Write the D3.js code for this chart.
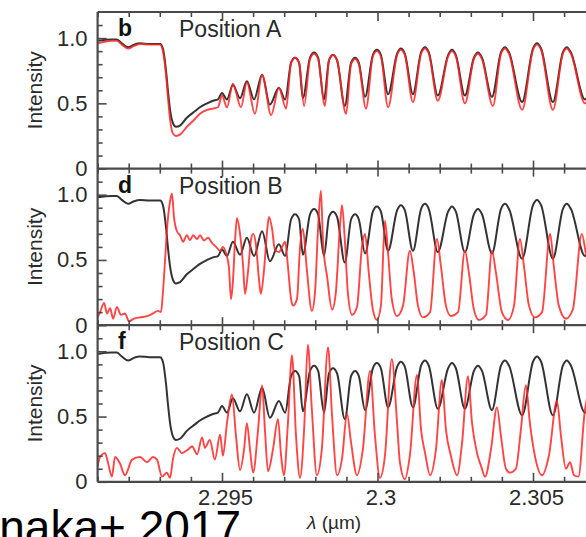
<!DOCTYPE html>
<html>
<head>
<meta charset="utf-8">
<script src="https://cdn.jsdelivr.net/npm/d3@7"></script>
<style>
  html, body { margin: 0; padding: 0; background: #fff; }
  svg { display: block; font-family: "Liberation Sans", Arial, Helvetica, sans-serif; }
</style>
</head>
<body>
<svg id="chart" width="586" height="537"></svg>
<script>
// reference spectrum (black), same in every panel
var blackRef = [
  [2.29100,0.98],[2.29146,0.99],[2.29162,0.99],[2.29178,0.96],[2.29198,0.93],[2.29217,0.95],
  [2.29236,0.96],[2.29268,0.955],[2.29301,0.955],[2.29310,0.92],[2.29320,0.75],[2.29326,0.60],
  [2.29333,0.45],[2.29342,0.35],[2.29352,0.32],[2.29365,0.33],[2.29387,0.39],[2.29413,0.44],
  [2.29429,0.47],[2.29452,0.50],[2.29471,0.52],[2.29487,0.53],[2.29500,0.58],[2.29516,0.53],
  [2.29535,0.64],[2.29558,0.54],[2.29580,0.67],[2.29603,0.53],[2.29629,0.72],[2.29654,0.49],
  [2.29683,0.62],[2.29703,0.53],[2.29722,0.81],[2.29735,0.85],[2.29748,0.81],[2.29760,0.54],
  [2.29783,0.85],[2.29796,0.89],[2.29809,0.85],[2.29828,0.53],[2.29844,0.83],[2.29857,0.87],
  [2.29870,0.83],[2.29895,0.48],[2.29915,0.81],[2.29928,0.85],[2.29940,0.81],[2.29960,0.55],
  [2.29985,0.87],[2.29998,0.91],[2.30011,0.87],[2.30034,0.57],[2.30063,0.88],[2.30075,0.92],
  [2.30088,0.88],[2.30114,0.57],[2.30140,0.89],[2.30153,0.93],[2.30165,0.89],[2.30194,0.56],
  [2.30227,0.87],[2.30239,0.91],[2.30252,0.87],[2.30281,0.56],[2.30310,0.85],[2.30323,0.89],
  [2.30336,0.85],[2.30368,0.55],[2.30397,0.89],[2.30410,0.93],[2.30423,0.89],[2.30465,0.51],
  [2.30500,0.92],[2.30513,0.96],[2.30526,0.92],[2.30564,0.51],[2.30596,0.89],[2.30609,0.93],
  [2.30622,0.89],[2.30667,0.53],[2.30699,0.80]
];

var redA = [
  [2.29100,0.96],[2.29146,0.98],[2.29162,0.98],[2.29178,0.95],[2.29198,0.92],[2.29217,0.94],
  [2.29236,0.955],[2.29268,0.95],[2.29301,0.95],[2.29310,0.90],[2.29320,0.72],[2.29326,0.55],
  [2.29333,0.38],[2.29342,0.27],[2.29352,0.25],[2.29365,0.26],[2.29387,0.32],[2.29413,0.38],
  [2.29429,0.42],[2.29452,0.45],[2.29471,0.46],[2.29487,0.47],[2.29500,0.56],[2.29516,0.47],
  [2.29535,0.65],[2.29561,0.47],[2.29580,0.66],[2.29606,0.42],[2.29629,0.72],[2.29658,0.41],
  [2.29683,0.62],[2.29706,0.46],[2.29722,0.81],[2.29735,0.85],[2.29748,0.81],[2.29764,0.48],
  [2.29783,0.84],[2.29796,0.88],[2.29809,0.84],[2.29831,0.48],[2.29844,0.83],[2.29857,0.87],
  [2.29870,0.83],[2.29899,0.42],[2.29915,0.80],[2.29928,0.84],[2.29940,0.80],[2.29963,0.46],
  [2.29985,0.86],[2.29998,0.90],[2.30011,0.86],[2.30034,0.47],[2.30063,0.87],[2.30075,0.91],
  [2.30088,0.87],[2.30114,0.51],[2.30140,0.88],[2.30153,0.92],[2.30165,0.88],[2.30194,0.52],
  [2.30227,0.86],[2.30239,0.90],[2.30252,0.86],[2.30281,0.50],[2.30310,0.84],[2.30323,0.88],
  [2.30336,0.84],[2.30371,0.48],[2.30397,0.88],[2.30410,0.92],[2.30423,0.88],[2.30465,0.45],
  [2.30500,0.91],[2.30513,0.95],[2.30526,0.91],[2.30564,0.45],[2.30596,0.88],[2.30609,0.92],
  [2.30622,0.88],[2.30667,0.50],[2.30699,0.78]
];

var redB = [
  [2.29100,0.06],[2.29108,0.10],[2.29121,0.17],[2.29130,0.09],[2.29140,0.13],[2.29150,0.05],
  [2.29162,0.14],[2.29175,0.08],[2.29188,0.09],[2.29201,0.03],[2.29217,0.05],[2.29236,0.06],
  [2.29259,0.07],[2.29278,0.09],[2.29294,0.11],[2.29304,0.10],[2.29310,0.25],[2.29317,0.50],
  [2.29323,0.73],[2.29333,0.95],[2.29339,1.01],[2.29346,0.82],[2.29355,0.72],[2.29365,0.69],
  [2.29375,0.64],[2.29387,0.69],[2.29397,0.65],[2.29407,0.69],[2.29420,0.66],[2.29429,0.69],
  [2.29442,0.65],[2.29455,0.67],[2.29468,0.63],[2.29481,0.60],[2.29494,0.57],[2.29503,0.60],
  [2.29513,0.55],[2.29522,0.45],[2.29529,0.20],[2.29535,0.33],[2.29542,0.65],[2.29548,0.82],
  [2.29558,0.70],[2.29568,0.45],[2.29574,0.24],[2.29584,0.42],[2.29593,0.65],[2.29600,0.70],
  [2.29609,0.62],[2.29619,0.35],[2.29625,0.24],[2.29635,0.42],[2.29645,0.72],[2.29651,0.83],
  [2.29661,0.74],[2.29670,0.58],[2.29683,0.56],[2.29693,0.60],[2.29703,0.64],[2.29712,0.45],
  [2.29722,0.20],[2.29728,0.15],[2.29741,0.20],[2.29751,0.60],[2.29760,0.74],[2.29773,0.42],
  [2.29789,0.11],[2.29799,0.25],[2.29809,0.75],[2.29818,1.03],[2.29825,0.63],[2.29838,0.37],
  [2.29854,0.12],[2.29866,0.25],[2.29879,0.75],[2.29886,0.92],[2.29895,0.65],[2.29905,0.24],
  [2.29918,0.08],[2.29934,0.14],[2.29950,0.60],[2.29960,0.70],[2.29972,0.40],[2.29985,0.12],
  [2.29998,0.04],[2.30011,0.15],[2.30024,0.80],[2.30034,0.55],[2.30046,0.20],[2.30063,0.07],
  [2.30082,0.15],[2.30104,0.57],[2.30117,0.40],[2.30130,0.15],[2.30146,0.06],[2.30169,0.10],
  [2.30191,0.66],[2.30204,0.45],[2.30220,0.15],[2.30236,0.07],[2.30259,0.10],[2.30281,0.57],
  [2.30294,0.40],[2.30310,0.12],[2.30326,0.04],[2.30349,0.08],[2.30368,0.57],[2.30381,0.40],
  [2.30400,0.10],[2.30420,0.04],[2.30439,0.15],[2.30458,0.66],[2.30471,0.45],[2.30487,0.15],
  [2.30506,0.06],[2.30529,0.10],[2.30555,0.70],[2.30567,0.45],[2.30583,0.15],[2.30606,0.05],
  [2.30628,0.12],[2.30657,0.70],[2.30670,0.55],[2.30699,0.20]
];

var redC = [
  [2.29100,0.12],[2.29108,0.19],[2.29124,0.22],[2.29133,0.15],[2.29146,0.04],[2.29156,0.19],
  [2.29172,0.14],[2.29188,0.05],[2.29211,0.17],[2.29236,0.19],[2.29259,0.15],[2.29278,0.19],
  [2.29291,0.17],[2.29307,0.04],[2.29323,0.07],[2.29333,0.03],[2.29342,0.17],[2.29355,0.26],
  [2.29371,0.22],[2.29387,0.24],[2.29404,0.27],[2.29420,0.21],[2.29436,0.34],[2.29445,0.26],
  [2.29461,0.32],[2.29477,0.17],[2.29494,0.36],[2.29503,0.20],[2.29516,0.45],[2.29532,0.67],
  [2.29545,0.35],[2.29558,0.09],[2.29571,0.25],[2.29580,0.45],[2.29590,0.25],[2.29600,0.07],
  [2.29616,0.40],[2.29629,0.74],[2.29638,0.40],[2.29648,0.08],[2.29664,0.25],[2.29680,0.48],
  [2.29690,0.20],[2.29699,0.05],[2.29712,0.45],[2.29725,0.97],[2.29738,0.35],[2.29751,0.03],
  [2.29764,0.40],[2.29776,1.05],[2.29789,0.55],[2.29805,0.05],[2.29821,0.25],[2.29841,1.03],
  [2.29854,0.50],[2.29870,0.05],[2.29886,0.18],[2.29902,0.52],[2.29915,0.30],[2.29934,0.05],
  [2.29953,0.25],[2.29976,0.85],[2.29992,0.35],[2.30008,0.03],[2.30024,0.20],[2.30046,0.94],
  [2.30063,0.45],[2.30072,0.15],[2.30088,0.02],[2.30104,0.20],[2.30127,0.82],[2.30140,0.40],
  [2.30153,0.22],[2.30169,0.05],[2.30188,0.25],[2.30207,0.78],[2.30220,0.40],[2.30236,0.20],
  [2.30256,0.05],[2.30272,0.30],[2.30291,0.81],[2.30304,0.45],[2.30320,0.22],[2.30333,0.12],
  [2.30346,0.04],[2.30365,0.25],[2.30384,0.57],[2.30397,0.35],[2.30413,0.10],[2.30426,0.07],
  [2.30445,0.10],[2.30461,0.40],[2.30477,0.74],[2.30490,0.45],[2.30506,0.20],[2.30529,0.05],
  [2.30551,0.20],[2.30577,0.62],[2.30590,0.35],[2.30606,0.10],[2.30619,0.15],[2.30632,0.05],
  [2.30646,0.04],[2.30667,0.55],[2.30699,0.80]
];

var panelLetters = ["b", "d", "f"];
var panelTitles = ["Position A", "Position B", "Position C"];
var redSeries = [redA, redB, redC];

var xMajor = [2.295, 2.3, 2.305];
var xMinor = [2.291, 2.292, 2.293, 2.294, 2.296, 2.297, 2.298, 2.299,
              2.301, 2.302, 2.303, 2.304, 2.306, 2.307];
var yMajor = [0, 0.5, 1.0];
var yMinor = [0.1, 0.2, 0.3, 0.4, 0.6, 0.7, 0.8, 0.9, 1.1];
var yLabels = ["0", "0.5", "1.0"];

var svg = d3.select("#chart");
var left = 97.6, right = 610.75, top0 = 12, ph = 156.6;
var frameCol = "#4a4a4a", textCol = "#2a2a2a";

var x = d3.scaleLinear().domain([2.291, 2.3075]).range([left, right]);

svg.append("clipPath").attr("id", "plotclip")
  .append("rect").attr("x", left).attr("y", top0).attr("width", right - left).attr("height", ph * 3);

function xTicks(yPos, gen, vals, size, offset) {
  svg.append("g").attr("transform", "translate(0," + (yPos + offset) + ")")
    .call(gen(x).tickValues(vals).tickSize(size).tickSizeOuter(0).tickFormat(""))
    .call(function (g) {
      g.select(".domain").remove();
      g.selectAll("line").attr("stroke", frameCol).attr("stroke-width", 1.6);
    });
}

panelTitles.forEach(function (title, i) {
  var pTop = top0 + i * ph, pBot = pTop + ph;
  var y = d3.scaleLinear().domain([0, 1.2]).range([pBot, pTop]);
  var line = d3.line().x(function (d) { return x(d[0]); }).y(function (d) { return y(d[1]); })
    .curve(d3.curveMonotoneX);

  var lines = svg.append("g").attr("clip-path", "url(#plotclip)");
  lines.append("path").datum(blackRef).attr("d", line)
    .attr("fill", "none").attr("stroke", "#333").attr("stroke-width", 2).attr("stroke-linejoin", "round");
  lines.append("path").datum(redSeries[i]).attr("d", line)
    .attr("fill", "none").attr("stroke", "#ff2424").attr("stroke-opacity", 0.85)
    .attr("stroke-width", 1.9).attr("stroke-linejoin", "round");

  // y ticks, inward
  [[yMinor, 5], [yMajor, 9]].forEach(function (t) {
    svg.append("g").attr("transform", "translate(" + left + ",0)")
      .call(d3.axisRight(y).tickValues(t[0]).tickSize(t[1]).tickSizeOuter(0).tickFormat(""))
      .call(function (g) {
        g.select(".domain").remove();
        g.selectAll("line").attr("stroke", frameCol).attr("stroke-width", 1.6);
      });
  });
  svg.append("g").attr("transform", "translate(" + left + ",0)")
    .call(d3.axisLeft(y).tickValues(yMajor).tickSize(0).tickPadding(10)
      .tickFormat(function (d, k) { return yLabels[k]; }))
    .call(function (g) {
      g.select(".domain").remove();
      g.selectAll("text").attr("fill", textCol).style("font-size", "22px");
    });

  svg.append("text").attr("transform", "translate(42," + (pTop + ph / 2) + ") rotate(-90)")
    .attr("text-anchor", "middle").attr("fill", textCol).style("font-size", "21px").text("Intensity");

  svg.append("text").attr("x", 118).attr("y", pTop + 24).attr("fill", "#111")
    .style("font-size", "23px").style("font-weight", "bold").text(panelLetters[i]);
  svg.append("text").attr("x", 179).attr("y", pTop + 25).attr("fill", textCol)
    .style("font-size", "23px").text(title);
});

// horizontal borders with x ticks
for (var b = 0; b <= 3; b++) {
  var yb = top0 + b * ph;
  if (b === 0) {
    xTicks(yb, d3.axisBottom, xMinor, 5, 0);
    xTicks(yb, d3.axisBottom, xMajor, 9, 0);
  } else if (b === 3) {
    xTicks(yb, d3.axisTop, xMinor, 5, 0);
    xTicks(yb, d3.axisTop, xMajor, 9, 0);
  } else {
    xTicks(yb, d3.axisBottom, xMinor, 10, -5);
    xTicks(yb, d3.axisBottom, xMajor, 16, -8);
  }
  svg.append("line").attr("x1", left).attr("x2", right).attr("y1", yb).attr("y2", yb)
    .attr("stroke", frameCol).attr("stroke-width", 2.2);
}
svg.append("line").attr("x1", left).attr("x2", left).attr("y1", top0).attr("y2", top0 + 3 * ph)
  .attr("stroke", frameCol).attr("stroke-width", 2.2);

// x tick labels
svg.append("g").attr("transform", "translate(3," + (top0 + 3 * ph) + ")")
  .call(d3.axisBottom(x).tickValues(xMajor).tickSize(0).tickPadding(8)
    .tickFormat(function (d) { return String(+d.toFixed(3)); }))
  .call(function (g) {
    g.select(".domain").remove();
    g.selectAll("text").attr("fill", textCol).style("font-size", "22px");
  });

var xl = svg.append("text").attr("x", 307).attr("y", 529).attr("fill", textCol).style("font-size", "19px");
xl.append("tspan").style("font-style", "italic").text("λ");
xl.append("tspan").text(" (µm)");

svg.append("text").attr("x", 241).attr("y", 543).attr("text-anchor", "end")
  .attr("fill", "#000").style("font-size", "46px").text("Tanaka+ 2017");
</script>
</body>
</html>
